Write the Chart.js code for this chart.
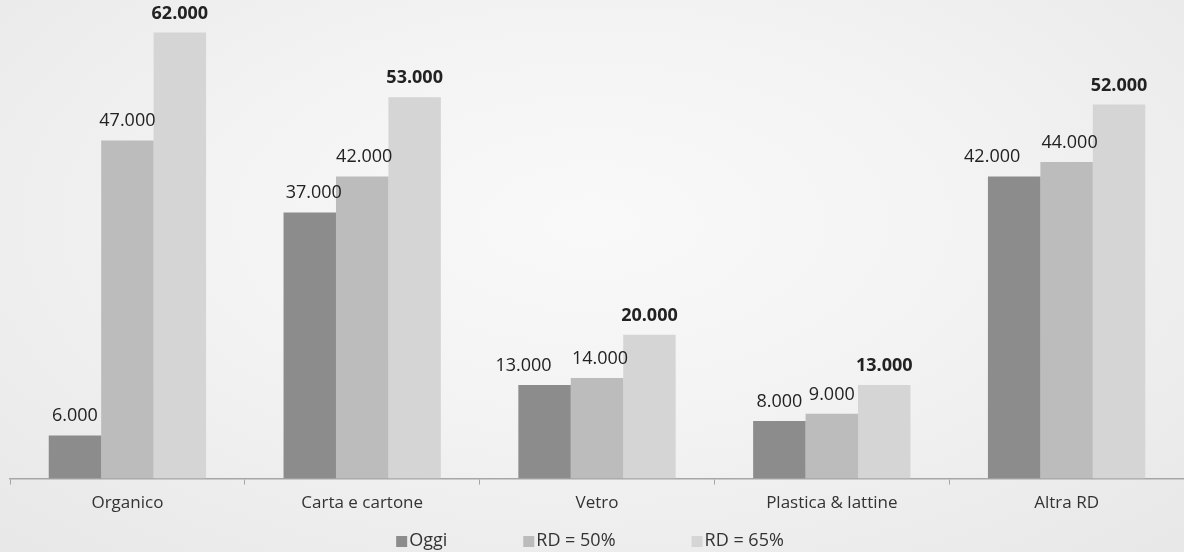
<!DOCTYPE html>
<html>
<head>
<meta charset="utf-8">
<script src="https://cdn.jsdelivr.net/npm/chart.js@4.4.1/dist/chart.umd.min.js"></script>
<style>
  html, body { margin: 0; padding: 0; }
  body {
    width: 1184px; height: 552px; overflow: hidden;
    background: radial-gradient(ellipse 70% 80% at 50% 40%, #f9f9f9 0%, #f3f3f3 45%, #ececec 80%, #e8e8e8 100%);
  }
  #wrap { position: relative; width: 1184px; height: 552px; }
</style>
</head>
<body>
<div id="wrap"><canvas id="c" width="1184" height="552"></canvas></div>
<script>
const categories = ["Organico", "Carta e cartone", "Vetro", "Plastica & lattine", "Altra RD"];
const seriesNames = ["Oggi", "RD = 50%", "RD = 65%"];
const oggi = [6000, 37000, 13000, 8000, 42000];
const rd50 = [47000, 42000, 14000, 9000, 44000];
const rd65 = [62000, 53000, 20000, 13000, 52000];
const colors = ["#8c8c8c", "#bcbcbc", "#d5d5d5"];
const FONT = "'Open Sans', 'Noto Sans', sans-serif";

function fmt(v) {
  return String(v).replace(/\B(?=(\d{3})+(?!\d))/g, ".");
}

// label nudges (style only): [datasetIndex][categoryIndex] -> px shift in x
const labelShiftX = [[0, 4, -21, 0, -22], [0, 2, 3, 0, 3], [0, 0, 0, 0, 0]];

const valueLabels = {
  id: "valueLabels",
  afterDatasetsDraw(chart) {
    const ctx = chart.ctx;
    ctx.save();
    ctx.fillStyle = "#222";
    ctx.textAlign = "center";
    ctx.textBaseline = "alphabetic";
    chart.data.datasets.forEach((ds, di) => {
      const meta = chart.getDatasetMeta(di);
      ctx.font = (di === 2 ? "bold " : "") + "18px " + FONT;
      meta.data.forEach((bar, i) => {
        ctx.fillText(fmt(ds.data[i]), bar.x + labelShiftX[di][i], bar.y - 14);
      });
    });
    ctx.restore();
  }
};

const customLegend = {
  id: "customLegend",
  afterDraw(chart) {
    const ctx = chart.ctx;
    ctx.save();
    ctx.font = "18px " + FONT;
    const box = 11, gapText = 2, gapItem = 76;
    const widths = chart.data.datasets.map(ds => box + gapText + ctx.measureText(ds.label).width);
    const total = widths.reduce((a, b) => a + b, 0) + gapItem * (widths.length - 1);
    let x = 590 - total / 2;
    const base = 546;
    ctx.textBaseline = "alphabetic";
    ctx.textAlign = "left";
    chart.data.datasets.forEach((ds, i) => {
      ctx.fillStyle = ds.backgroundColor;
      ctx.fillRect(x, base - 10, box, box);
      ctx.fillStyle = "#333";
      ctx.fillText(ds.label, x + box + gapText, base);
      x += widths[i] + gapItem;
    });
    ctx.restore();
  }
};

new Chart(document.getElementById("c"), {
  type: "bar",
  data: {
    labels: categories,
    datasets: [
      { label: seriesNames[0], data: oggi, backgroundColor: colors[0] },
      { label: seriesNames[1], data: rd50, backgroundColor: colors[1] },
      { label: seriesNames[2], data: rd65, backgroundColor: colors[2] }
    ]
  },
  options: {
    responsive: false,
    animation: false,
    devicePixelRatio: 1,
    layout: { padding: { top: 11, left: 10, right: 0, bottom: 31 } },
    datasets: { bar: { categoryPercentage: 0.67, barPercentage: 1.0, borderWidth: 0 } },
    plugins: { legend: { display: false }, tooltip: { enabled: false } },
    scales: {
      x: {
        offset: true,
        grid: { offset: true, drawOnChartArea: false, drawTicks: true, tickLength: 6, color: "#a6a6a6", lineWidth: 1 },
        border: { display: true, color: "#a6a6a6", width: 1.5 },
        ticks: { color: "#333", font: { family: FONT, size: 17 }, padding: 8 }
      },
      y: { display: false, min: 0, max: 65000 }
    }
  },
  plugins: [valueLabels, customLegend]
});
</script>
</body>
</html>
